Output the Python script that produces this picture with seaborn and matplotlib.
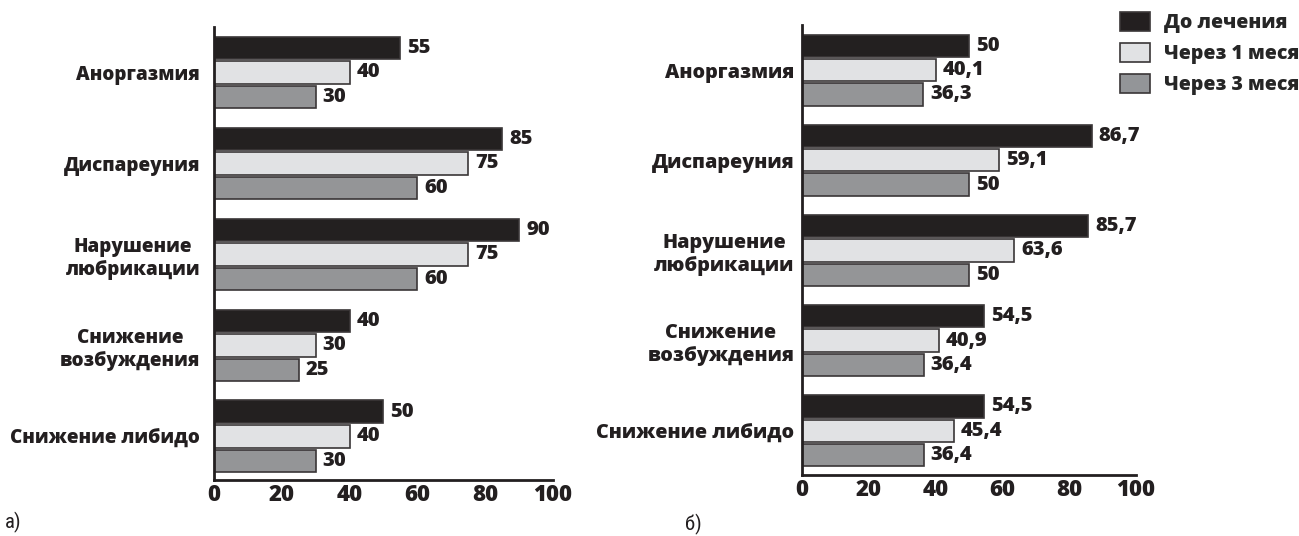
import pandas as pd
import seaborn as sns
from matplotlib import pyplot as plt
from matplotlib.patches import Patch

categories = ['Аноргазмия', 'Диспареуния', 'Нарушение\nлюбрикации',
              'Снижение\nвозбуждения', 'Снижение либидо']
periods = ['До лечения', 'Через 1 месяц', 'Через 3 месяца']

a_before = [55, 85, 90, 40, 50]
a_1m = [40, 75, 75, 30, 40]
a_3m = [30, 60, 60, 25, 30]

b_before = [50, 86.7, 85.7, 54.5, 54.5]
b_1m = [40.1, 59.1, 63.6, 40.9, 45.4]
b_3m = [36.3, 50, 50, 36.4, 36.4]

x_ticks = [0, 20, 40, 60, 80, 100]

colors = {periods[0]: '#231f20', periods[1]: '#e1e2e4', periods[2]: '#939598'}
INK = '#231f20'
HEAVY = 800

sns.set_style('white')
WIDE = ['Open Sans', 'DejaVu Sans']
NARROW = ['Roboto Condensed', 'DejaVu Sans']
plt.rcParams['font.family'] = WIDE


def make_df(s1, s2, s3):
    rows = []
    for p, s in zip(periods, [s1, s2, s3]):
        for c, v in zip(categories, s):
            rows.append({'cat': c, 'period': p, 'val': v})
    return pd.DataFrame(rows)


def draw_panel(ax, df, series, comma, ypad, ylow, label_size):
    sns.barplot(data=df, y='cat', x='val', hue='period', orient='h',
                order=categories, hue_order=periods, palette=colors,
                edgecolor='#3a3637', linewidth=1.2, width=0.81, gap=0.08,
                legend=False, ax=ax)
    # value labels, comma decimals on panel б
    for cont, s in zip(ax.containers, series):
        if comma:
            labs = [str(v).replace('.', ',') for v in s]
        else:
            labs = [str(v) for v in s]
        ax.bar_label(cont, labels=labs, padding=5, fontweight=HEAVY,
                     fontsize=14.5, color=INK)
    ax.set_xlim(0, 100)
    ax.set_ylim(ylow, -0.5)
    ax.set_xticks(x_ticks, labels=[str(t) for t in x_ticks],
                  fontweight=HEAVY, fontsize=16, color=INK)
    ax.set_yticks(range(len(categories)), labels=categories,
                  fontweight=HEAVY, fontsize=label_size, color=INK,
                  multialignment='center', va='center_baseline')
    ax.set_xlabel('')
    ax.set_ylabel('')
    for side in ['top', 'right']:
        ax.spines[side].set_visible(False)
    for side in ['left', 'bottom']:
        ax.spines[side].set_linewidth(2)
        ax.spines[side].set_color(INK)
    ax.tick_params(axis='y', length=0, pad=ypad)
    ax.tick_params(axis='x', direction='in', length=10, width=2,
                   color=INK, pad=2)


fig = plt.figure(figsize=(12.99, 5.36), dpi=100)
ax1 = fig.add_axes([214 / 1299, 56 / 536, 339 / 1299, 453 / 536])
ax2 = fig.add_axes([802 / 1299, 61 / 536, 334 / 1299, 450 / 536])

draw_panel(ax1, make_df(a_before, a_1m, a_3m), [a_before, a_1m, a_3m],
           False, 10, 4.48, 13.6)
draw_panel(ax2, make_df(b_before, b_1m, b_3m), [b_before, b_1m, b_3m],
           True, 5.5, 4.49, 14.2)

handles = [Patch(facecolor=colors[p], edgecolor='#3a3637', linewidth=1.2)
           for p in periods]
fig.legend(handles, periods, loc='upper left',
           bbox_to_anchor=(1120 / 1299, 1 - 12 / 536), frameon=False,
           handlelength=1.55, handleheight=1.13, handletextpad=0.72,
           labelspacing=0.5, borderpad=0, borderaxespad=0,
           prop={'family': WIDE, 'weight': HEAVY, 'size': 14})

fig.text(5 / 1299, 1 - 522 / 536, 'а)', family=NARROW, fontsize=15,
         va='center', ha='left', color=INK)
fig.text(685 / 1299, 1 - 524 / 536, 'б)', family=NARROW, fontsize=15,
         va='center', ha='left', color=INK)

fig.savefig('out.png', dpi=100)
